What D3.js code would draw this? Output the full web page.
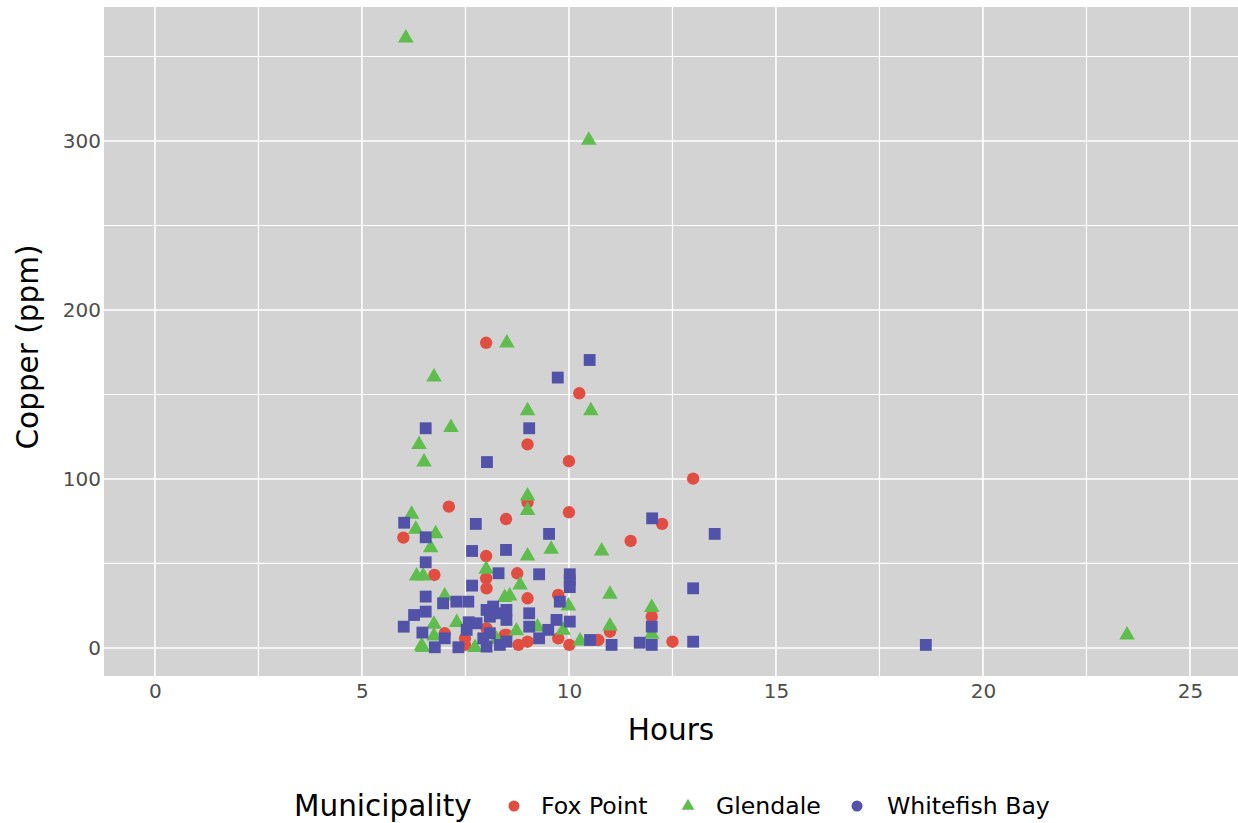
<!DOCTYPE html>
<html><head><meta charset="utf-8">
<script src="https://cdn.jsdelivr.net/npm/d3@7"></script>
<style>body{margin:0;background:#fff;} svg{display:block;font-family:"DejaVu Sans",sans-serif;}</style>
</head><body>
<svg id="c" width="1238" height="823"></svg>
<script>
const municipalities = ["Fox Point", "Glendale", "Whitefish Bay"];
const colors = ["#E24D42", "#5EBD4C", "#5252A9"];
const xTicks = [0, 5, 10, 15, 20, 25];
const yTicks = [0, 100, 200, 300];

const foxPointHours = [8.0,9.0,10.25,10.0,13.0,7.1,6.0,8.48,8.0,6.75,8.0,9.0,10.0,8.75,12.25,11.49,8.01,7.0,7.49,7.49,8.01,8.45,9.0,9.74,8.49,8.78,9.0,9.74,10.01,10.71,10.99,12.0,12.5,11.0];
const foxPointCopper = [180.6,120.5,150.7,110.5,100.2,83.6,65.3,76.3,54.4,43.2,41.2,86.2,80.3,44.2,73.4,63.3,35.3,8.7,5.7,1.8,11.6,7.7,29.4,31.4,7.7,1.8,3.7,5.7,1.8,4.7,9.6,18.5,3.7,10.7];

const glendaleHours = [6.06,10.48,6.74,8.5,9.0,10.53,7.15,6.38,6.5,9.0,9.0,6.2,6.3,6.78,6.66,9.57,10.79,9.0,6.32,6.48,8.0,8.82,8.57,8.45,7.0,10.99,9.99,12.0,6.74,7.29,6.74,6.44,6.47,7.73,8.25,8.73,9.24,9.86,10.27,10.99,12.0,23.48];
const glendaleCopper = [361.5,301,161,181,141,141,131,121,110.7,90.5,82,79.7,70.8,68.2,59.9,59,58,55,43.2,43.2,47.2,37.9,31.4,30.4,31.4,32.4,25.4,24.5,14.6,15.6,7.7,1.8,0.8,0.8,5.7,10.7,13,11.1,4.7,13.6,8.7,8.3];

const whitefishHours = [9.73,10.5,6.54,9.04,8.02,6.02,6.54,7.75,7.66,8.48,6.54,8.3,9.52,9.28,10.02,10.02,10.02,12.01,13.52,7.66,6.54,6.96,7.28,7.57,6.54,6.26,6.01,6.46,7.58,7.53,7.0,7.33,6.76,7.77,8.01,8.17,8.09,8.33,8.09,7.93,8.01,8.33,9.78,8.49,8.49,9.04,9.04,9.7,10.02,9.5,8.49,9.28,10.51,11.03,12.0,11.71,12.0,13.0,13.0,18.62];
const whitefishCopper = [160,170.4,130,130,110,74.1,65.5,73.4,57.4,58,50.7,44.2,67.5,43.6,43.6,40,36,76.7,67.5,36.9,30.4,26.4,27.4,27.4,21.5,19.5,12.6,9.1,15.2,10.7,5.7,0.4,0.4,14.6,22.5,24.5,18.5,20.5,8.7,5.7,0.8,1.8,27.4,22.5,16.6,20.5,12.6,16.6,15.6,10.7,3.7,5.7,4.7,1.8,12.6,3.1,1.8,35.3,3.7,1.8];

const svg = d3.select("#c");
const pL = 104, pR = 1238, pT = 7, pB = 676;
const x = d3.scaleLinear().domain([-1.23, 26.16]).range([pL, pR]);
const y = d3.scaleLinear().domain([-16.6, 379.3]).range([pB, pT]);

svg.append("rect").attr("x", pL).attr("y", pT).attr("width", pR - pL).attr("height", pB - pT).attr("fill", "#D3D3D3");

const g = svg.append("g");
const xMinor = d3.range(2.5, 26, 5), yMinor = d3.range(50, 380, 100);
g.selectAll(".xm").data(xMinor).join("line").attr("x1", d => x(d)).attr("x2", d => x(d)).attr("y1", pT).attr("y2", pB).attr("stroke", "#fff").attr("stroke-width", 1.2);
g.selectAll(".ym").data(yMinor).join("line").attr("y1", d => y(d)).attr("y2", d => y(d)).attr("x1", pL).attr("x2", pR).attr("stroke", "#fff").attr("stroke-width", 1.2);
g.selectAll(".xM").data(xTicks).join("line").attr("x1", d => x(d)).attr("x2", d => x(d)).attr("y1", pT).attr("y2", pB).attr("stroke", "#fff").attr("stroke-width", 1.6);
g.selectAll(".yM").data(yTicks).join("line").attr("y1", d => y(d)).attr("y2", d => y(d)).attr("x1", pL).attr("x2", pR).attr("stroke", "#fff").attr("stroke-width", 1.6);

const xAxis = svg.append("g").attr("transform", `translate(0,${pB})`).call(d3.axisBottom(x).tickValues(xTicks).tickSize(0).tickPadding(8));
const yAxis = svg.append("g").attr("transform", `translate(${pL},0)`).call(d3.axisLeft(y).tickValues(yTicks).tickSize(0).tickPadding(3));
[xAxis, yAxis].forEach(a => {
  a.select(".domain").remove();
  a.selectAll("text").attr("font-size", 20).attr("fill", "#4D4D4D").attr("font-family", "DejaVu Sans");
});

svg.append("text").attr("x", 671).attr("y", 740).attr("text-anchor", "middle").attr("font-size", 29.5).attr("fill", "#000").text("Hours");
svg.append("text").attr("transform", `translate(38,347) rotate(-90)`).attr("text-anchor", "middle").attr("font-size", 29.5).attr("fill", "#000").text("Copper (ppm)");

const sym = [d3.symbolCircle, d3.symbolTriangle, d3.symbolSquare];
const sizes = [120, 105, 140];
const series = [
  d3.zip(foxPointHours, foxPointCopper),
  d3.zip(glendaleHours, glendaleCopper),
  d3.zip(whitefishHours, whitefishCopper)
];
series.forEach((pts, i) => {
  const gen = d3.symbol().type(sym[i]).size(sizes[i]);
  svg.append("g").selectAll("path").data(pts).join("path")
    .attr("transform", d => `translate(${x(d[0])},${y(d[1]) + (i === 1 ? 1 : 0)})`)
    .attr("d", gen).attr("fill", colors[i]);
});

const lg = svg.append("g");
lg.append("text").attr("x", 294).attr("y", 816).attr("font-size", 29.5).attr("fill", "#000").text("Municipality");
const keyX = [514, 688, 857], labX = [541, 716, 887];
municipalities.forEach((m, i) => {
  const gen = d3.symbol().type(i === 1 ? d3.symbolTriangle : d3.symbolCircle).size(i === 1 ? 70 : 95);
  lg.append("path").attr("transform", `translate(${keyX[i]},${806})`).attr("d", gen).attr("fill", colors[i]);
  lg.append("text").attr("x", labX[i]).attr("y", 814).attr("font-size", 23.6).attr("fill", "#000").text(m);
});
</script>
</body></html>
